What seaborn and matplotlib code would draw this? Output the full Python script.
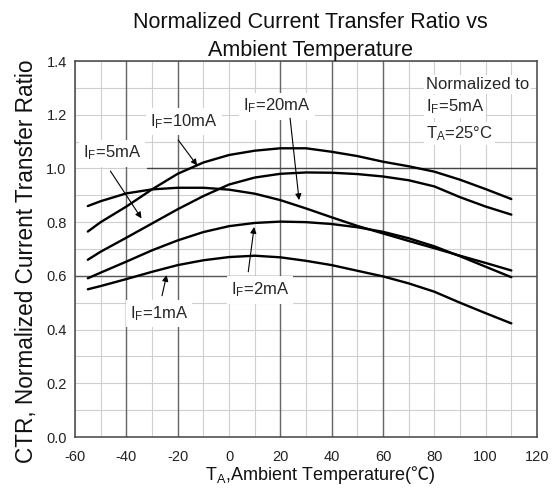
import matplotlib
matplotlib.use("Agg")
import matplotlib.pyplot as plt
import seaborn as sns
import pandas as pd

# ---- data ----
temps = [-55, -50, -40, -30, -20, -10, 0, 10, 20, 30, 40, 50, 60, 70, 80, 90, 100, 110]
ctr_1mA = [0.550, 0.562, 0.588, 0.615, 0.640, 0.658, 0.670, 0.675, 0.669, 0.656, 0.640, 0.619, 0.598, 0.572, 0.541, 0.500, 0.461, 0.423]
ctr_2mA = [0.591, 0.612, 0.653, 0.695, 0.732, 0.763, 0.785, 0.797, 0.802, 0.800, 0.793, 0.781, 0.764, 0.740, 0.710, 0.673, 0.634, 0.595]
ctr_5mA = [0.660, 0.690, 0.742, 0.795, 0.848, 0.897, 0.940, 0.966, 0.980, 0.985, 0.984, 0.979, 0.970, 0.956, 0.933, 0.893, 0.858, 0.828]
ctr_10mA = [0.765, 0.800, 0.858, 0.922, 0.980, 1.022, 1.050, 1.066, 1.075, 1.075, 1.062, 1.046, 1.025, 1.008, 0.988, 0.958, 0.923, 0.886]
ctr_20mA = [0.860, 0.878, 0.907, 0.922, 0.928, 0.928, 0.921, 0.906, 0.882, 0.851, 0.818, 0.786, 0.758, 0.730, 0.703, 0.675, 0.648, 0.620]

series_names = ["1mA", "2mA", "5mA", "10mA", "20mA"]
series_values = [ctr_1mA, ctr_2mA, ctr_5mA, ctr_10mA, ctr_20mA]

x_ticks = [-60, -40, -20, 0, 20, 40, 60, 80, 100, 120]
y_ticks = [0.0, 0.2, 0.4, 0.6, 0.8, 1.0, 1.2, 1.4]

# annotation labels: (text, text position, arrow start, arrow tip)
labels = [
    ("I$_F$=20mA", (5.5, 1.215), (23.8, 1.187), (27.3, 0.882)),
    ("I$_F$=10mA", (-30.8, 1.158), (-19.8, 1.106), (-12.4, 1.011)),
    ("I$_F$=5mA", (-57.0, 1.040), (-46.2, 0.990), (-34.1, 0.814)),
    ("I$_F$=2mA", (0.8, 0.530), (7.5, 0.615), (9.8, 0.782)),
    ("I$_F$=1mA", (-38.6, 0.442), (-26.1, 0.526), (-24.3, 0.603)),
]
note_lines = ["Normalized to", "I$_F$=5mA", "T$_A$=25°C"]
note_y = [1.297, 1.213, 1.113]

rows = []
for name, vals in zip(series_names, series_values):
    for t, v in zip(temps, vals):
        rows.append({"T": t, "CTR": v, "IF": name})
df = pd.DataFrame(rows)

sns.set_theme(style="white")
plt.rcParams["font.family"] = ["Liberation Sans", "Noto Sans CJK SC", "DejaVu Sans"]
plt.rcParams["mathtext.fontset"] = "custom"
plt.rcParams["mathtext.rm"] = "Liberation Sans"
plt.rcParams["mathtext.sf"] = "Noto Sans CJK SC"
plt.rcParams["mathtext.default"] = "regular"

fig = plt.figure(figsize=(5.52, 4.90), dpi=100)
ax = fig.add_axes([75 / 552, 1 - 437 / 490, 462 / 552, 376 / 490])

# grid
ax.set_xlim(-60, 120)
ax.set_ylim(0, 1.4)
ax.set_xticks(x_ticks)
ax.set_yticks(y_ticks)
ax.set_xticks(list(range(-60, 121, 10)), minor=True)
ax.set_yticks([i / 10 for i in range(15)], minor=True)
ax.grid(which="both", color="#cfcfcf", lw=0.8)
for xv in [-40, -20, 20, 40, 60]:
    ax.axvline(xv, color="#666666", lw=1.0, zorder=1)
ax.axhline(1.0, xmin=(-32 + 60) / 180, color="#444444", lw=1.0, zorder=1)
ax.axhline(0.6, color="#555555", lw=1.0, zorder=1)
ax.set_axisbelow(True)

sns.lineplot(data=df, x="T", y="CTR", hue="IF", palette=["black"] * 5,
             legend=False, lw=1.7, ax=ax, zorder=3)

for txt, pos, a0, a1 in labels:
    ax.text(pos[0], pos[1], txt, fontsize=12, ha="left", va="baseline", zorder=4,
            bbox=dict(facecolor="white", edgecolor="none", pad=3))
    ax.annotate("", xy=a1, xytext=a0, zorder=5,
                arrowprops=dict(arrowstyle="-|>", color="black", lw=0.8,
                                mutation_scale=9, shrinkA=0, shrinkB=0))

for line, yv in zip(note_lines, note_y):
    ax.text(76.8, yv, line, fontsize=12, ha="left", va="baseline", zorder=4,
            bbox=dict(facecolor="white", edgecolor="none", pad=1.5))

ax.tick_params(which="both", length=0, labelsize=10.5, colors="#222222")
ax.tick_params(axis="y", pad=6)
ax.tick_params(axis="x", pad=9)
ax.set_yticklabels([f"{v:.1f}" for v in y_ticks])
ax.set_xticklabels([str(v) for v in x_ticks])

for s in ax.spines.values():
    s.set_color("#444444")
    s.set_linewidth(1.1)

ax.set_xlabel("T$_A$,Ambient Temperature($\\mathsf{℃}$)", fontsize=13, color="#111111")
ax.xaxis.label.set_verticalalignment("center")
ax.xaxis.set_label_coords(0.530, -0.101)
ax.set_ylabel("CTR, Normalized Current Transfer Ratio", fontsize=16.3, color="#111111")
ax.yaxis.label.set_verticalalignment("center")
ax.yaxis.set_label_coords(-0.106, 0.467)

fig.text(310 / 552, 1 - 36.5 / 490, "Normalized Current Transfer Ratio vs\nAmbient Temperature",
         ha="center", va="center", ma="center", fontsize=15.5, linespacing=1.45, color="#111111")

fig.savefig("out.png", dpi=100)
